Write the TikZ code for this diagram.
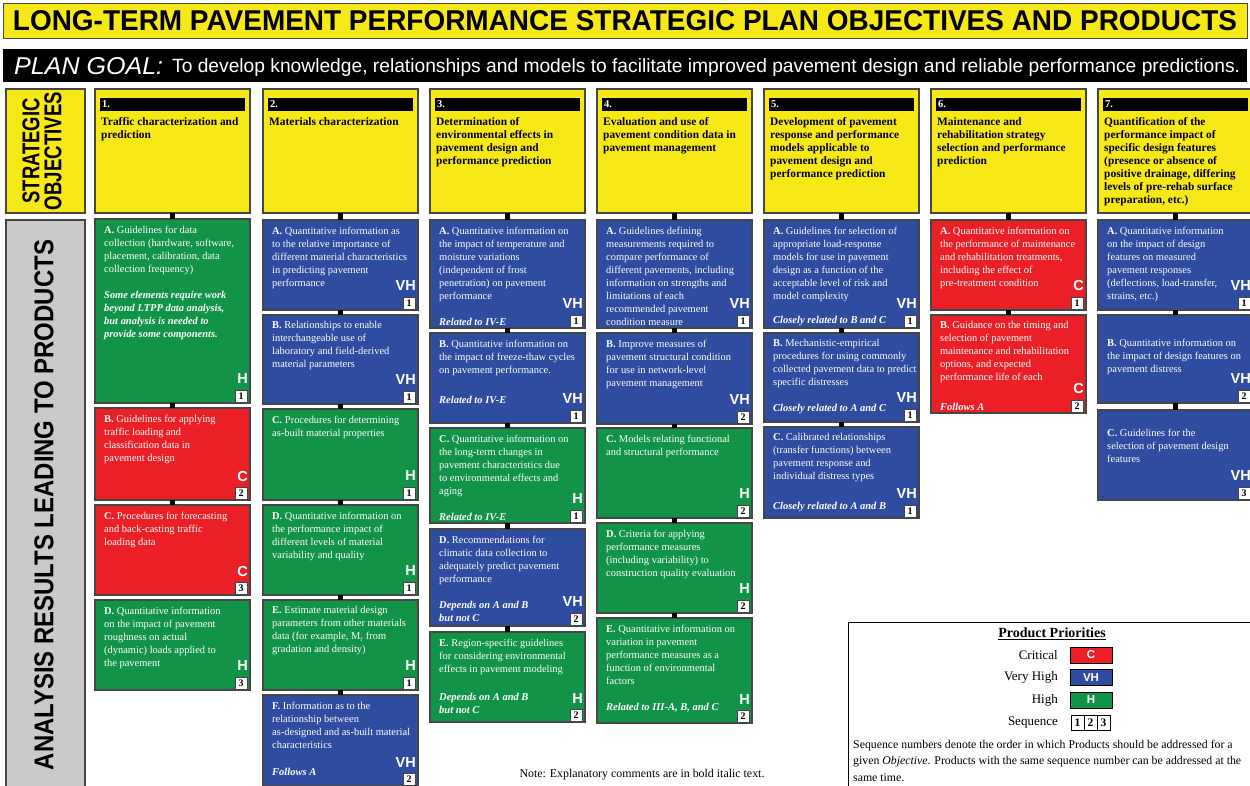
\documentclass[tikz,border=0pt]{standalone}
\usepackage{fontspec}
\setmainfont{Liberation Serif}
\setsansfont{Liberation Sans}
\usepackage{graphicx}
\definecolor{yel}{RGB}{247,232,24}
\definecolor{grn}{RGB}{18,148,72}
\definecolor{redc}{RGB}{234,32,38}
\definecolor{blu}{RGB}{46,76,160}
\definecolor{gry}{RGB}{202,202,202}
\definecolor{bord}{RGB}{70,70,70}
\tikzset{
 pbox/.style={anchor=north west, minimum width=155pt, inner sep=0pt, outer sep=0pt, draw=bord, line width=1.3pt},
 obox/.style={anchor=north west, minimum width=155pt, minimum height=124pt, inner sep=0pt, outer sep=0pt, fill=yel, draw=bord, line width=1.3pt},
 ptext/.style={anchor=north west, inner sep=0pt, align=left, text=white, font=\fontsize{10.45}{13}\selectfont},
 otext/.style={anchor=north west, inner sep=0pt, align=left, text=black, font=\fontsize{11.4}{13}\selectfont\bfseries},
 cmt/.style={anchor=base west, inner sep=0pt, text=white, font=\fontsize{10.5}{13}\selectfont\bfseries\itshape},
 prio/.style={anchor=east, inner sep=0pt, text=white, font=\fontsize{14.5}{14.5}\selectfont\sffamily\bfseries},
 seqb/.style={draw=bord, fill=white, line width=0.6pt, minimum width=12pt, minimum height=12pt, inner sep=0pt, text=black, font=\fontsize{10}{10}\selectfont\bfseries},
 numt/.style={anchor=west, inner sep=0pt, text=white, font=\fontsize{10.5}{10.5}\selectfont\bfseries},
 conn/.style={line width=5pt, black},
 sidebox/.style={anchor=north west, minimum width=79pt, inner sep=0pt, outer sep=0pt, draw=bord, line width=1.3pt},
 legl/.style={anchor=east, inner sep=0pt, font=\fontsize{13}{13}\selectfont},
 sw/.style={minimum width=42pt, minimum height=16pt, inner sep=0pt, draw=black, line width=0.6pt, text=white, font=\fontsize{11.5}{11.5}\selectfont\sffamily\bfseries},
 sq/.style={minimum width=13pt, minimum height=15pt, inner sep=0pt, draw=black, line width=0.7pt, fill=white, font=\fontsize{11.5}{11.5}\selectfont\bfseries},
}
\newcommand{\bi}[1]{{\bfseries\itshape #1}}
% objective box: name, left, number, text
\newcommand{\obj}[4]{%
  \node[obox] (#1) at (#2,89) {};
  \node[anchor=north west, minimum width=145pt, minimum height=13pt, fill=black, inner sep=0pt] (#1-bar) at (#2+5,98) {};
  \node[numt] (#1-n) at (#2+7,104.5) {#3.};
  \node[otext] (#1-t) at (#2+6,117) {#4};
}
% product box: name, left, top, bottom, colour, text, priority, sequence, text offset
\newcommand{\pbx}[9]{%
  \node[pbox, fill=#5, minimum height={#4-#3}] (#1) at (#2,#3) {};
  \node[ptext] (#1-t) at (#2+9,#3+#9) {#6};
  \node[prio] (#1-p) at (#2+153,#4-24) {#7};
  \node[seqb] (#1-s) at (#2+146,#4-7) {#8};
}
\begin{document}
\begin{tikzpicture}[x=1pt,y=-1pt]
\useasboundingbox (0,0) rectangle (1250,785);
\clip (0,0) rectangle (1250,785);
\fill[white] (0,0) rectangle (1250,785);
% title
\node[anchor=north west, minimum width=1244pt, minimum height=35pt, fill=yel, draw=bord, line width=1.3pt, inner sep=0pt] (title) at (3,3) {};
\node[inner sep=0pt] (title-t) at (625,21) {\resizebox{1224pt}{20pt}{\sffamily\bfseries LONG-TERM PAVEMENT PERFORMANCE STRATEGIC PLAN OBJECTIVES AND PRODUCTS}};
% plan goal
\node[anchor=north west, minimum width=1244pt, minimum height=33pt, fill=black, inner sep=0pt] (goal) at (3,49) {};
\node[anchor=west, inner sep=0pt, text=white] (goal-a) at (14,66.5) {\resizebox{149pt}{17pt}{\sffamily\itshape PLAN GOAL:}};
\node[anchor=west, inner sep=0pt, text=white] (goal-b) at (172,67.5) {\resizebox{1068pt}{!}{\sffamily To develop knowledge, relationships and models to facilitate improved pavement design and reliable performance predictions.}};
% side labels
\node[sidebox, fill=yel, minimum height=124pt] (so) at (6,89) {};
\node[rotate=90, inner sep=0pt] (so-t1) at (31,151) {\resizebox{105pt}{17pt}{\sffamily\bfseries STRATEGIC}};
\node[rotate=90, inner sep=0pt] (so-t2) at (53,151) {\resizebox{118pt}{17pt}{\sffamily\bfseries OBJECTIVES}};
\node[sidebox, fill=gry, minimum height=575pt] (ar) at (6,220) {};
\node[rotate=90, inner sep=0pt] (ar-t) at (44,505) {\resizebox{530pt}{19pt}{\sffamily\bfseries ANALYSIS RESULTS LEADING TO PRODUCTS}};

% ---------- column 1
\obj{o1}{95}{1}{Traffic characterization and\\prediction}
\pbx{a1}{95}{219}{403}{grn}{\textbf{A.} Guidelines for data\\collection (hardware, software,\\placement, calibration, data\\collection frequency)\\[13pt]\bi{Some elements require work}\\\bi{beyond LTPP data analysis,}\\\bi{but analysis is needed to}\\\bi{provide some components.}}{H}{1}{6.5}
\pbx{b1}{95}{408}{500}{redc}{\textbf{B.} Guidelines for applying\\traffic loading and\\classification data in\\pavement design}{C}{2}{6.5}
\pbx{c1}{95}{505}{595}{redc}{\textbf{C.} Procedures for forecasting\\and back-casting traffic\\loading data}{C}{3}{6.5}
\pbx{d1}{95}{600}{690}{grn}{\textbf{D.} Quantitative information\\on the impact of pavement\\roughness on actual\\(dynamic) loads applied to\\the pavement}{H}{3}{6.5}
\draw[conn] (o1.south) -- (a1.north);
\draw[conn] (a1.south) -- (b1.north);
\draw[conn] (b1.south) -- (c1.north);

% ---------- column 2
\obj{o2}{263}{2}{Materials characterization}
\pbx{a2}{263}{220}{310}{blu}{\textbf{A.} Quantitative information as\\to the relative importance of\\different material characteristics\\in predicting pavement\\performance}{VH}{1}{6.5}
\pbx{b2}{263}{315}{404}{blu}{\textbf{B.} Relationships to enable\\interchangeable use of\\laboratory and field-derived\\material parameters}{VH}{1}{6.5}
\pbx{c2}{263}{409}{500}{grn}{\textbf{C.} Procedures for determining\\as-built material properties}{H}{1}{6.5}
\pbx{d2}{263}{505}{595}{grn}{\textbf{D.} Quantitative information on\\the performance impact of\\different levels of material\\variability and quality}{H}{1}{6.5}
\pbx{e2}{263}{600}{690}{grn}{\textbf{E.} Estimate material design\\parameters from other materials\\data (for example, M\textsubscript{r} from\\gradation and density)}{H}{1}{6.5}
\pbx{f2}{263}{695}{786}{blu}{\textbf{F.} Information as to the\\relationship between\\as-designed and as-built material\\characteristics}{VH}{2}{6.5}
\node[cmt] (f2-c) at (272,775) {Follows A};
\draw[conn] (o2.south) -- (a2.north);
\draw[conn] (a2.south) -- (b2.north);
\draw[conn] (b2.south) -- (c2.north);
\draw[conn] (c2.south) -- (d2.north);
\draw[conn] (d2.south) -- (e2.north);
\draw[conn] (e2.south) -- (f2.north);

% ---------- column 3
\obj{o3}{430}{3}{Determination of\\environmental effects in\\pavement design and\\performance prediction}
\pbx{a3}{430}{220}{328}{blu}{\textbf{A.} Quantitative information on\\the impact of temperature and\\moisture variations\\(independent of frost\\penetration) on pavement\\performance}{VH}{1}{6.5}
\node[cmt] (a3-c) at (439,325) {Related to IV-E};
\pbx{b3}{430}{333}{423}{blu}{\textbf{B.} Quantitative information on\\the impact of freeze-thaw cycles\\on pavement performance.}{VH}{1}{6.5}
\node[cmt] (b3-c) at (439,403) {Related to IV-E};
\pbx{c3}{430}{428}{523}{grn}{\textbf{C.} Quantitative information on\\the long-term changes in\\pavement characteristics due\\to environmental effects and\\aging}{H}{1}{6.5}
\node[cmt] (c3-c) at (439,520) {Related to IV-E};
\pbx{d3}{430}{529}{626}{blu}{\textbf{D.} Recommendations for\\climatic data collection to\\adequately predict pavement\\performance}{VH}{2}{6.5}
\node[cmt] (d3-c1) at (439,608) {Depends on A and B};
\node[cmt] (d3-c2) at (439,621) {but not C};
\pbx{e3}{430}{632}{722}{grn}{\textbf{E.} Region-specific guidelines\\for considering environmental\\effects in pavement modeling}{H}{2}{6.5}
\node[cmt] (e3-c1) at (439,700) {Depends on A and B};
\node[cmt] (e3-c2) at (439,713) {but not C};
\draw[conn] (o3.south) -- (a3.north);
\draw[conn] (a3.south) -- (b3.north);
\draw[conn] (b3.south) -- (c3.north);
\draw[conn] (c3.south) -- (d3.north);
\draw[conn] (d3.south) -- (e3.north);

% ---------- column 4
\obj{o4}{597}{4}{Evaluation and use of\\pavement condition data in\\pavement management}
\pbx{a4}{597}{220}{328}{blu}{\textbf{A.} Guidelines defining\\measurements required to\\compare performance of\\different pavements, including\\information on strengths and\\limitations of each\\recommended pavement\\condition measure}{VH}{1}{6.5}
\pbx{b4}{597}{333}{424}{blu}{\textbf{B.} Improve measures of\\pavement structural condition\\for use in network-level\\pavement management}{VH}{2}{6.5}
\pbx{c4}{597}{428}{518}{grn}{\textbf{C.} Models relating functional\\and structural performance}{H}{2}{6.5}
\pbx{d4}{597}{523}{613}{grn}{\textbf{D.} Criteria for applying\\performance measures\\(including variability) to\\construction quality evaluation}{H}{2}{6.5}
\pbx{e4}{597}{618}{723}{grn}{\textbf{E.} Quantitative information on\\variation in pavement\\performance measures as a\\function of environmental\\factors}{H}{2}{6.5}
\node[cmt] (e4-c) at (606,710) {Related to III-A, B, and C};
\draw[conn] (o4.south) -- (a4.north);
\draw[conn] (a4.south) -- (b4.north);
\draw[conn] (b4.south) -- (c4.north);
\draw[conn] (c4.south) -- (d4.north);
\draw[conn] (d4.south) -- (e4.north);

% ---------- column 5
\obj{o5}{764}{5}{Development of pavement\\response and performance\\models applicable to\\pavement design and\\performance prediction}
\pbx{a5}{764}{220}{328}{blu}{\textbf{A.} Guidelines for selection of\\appropriate load-response\\models for use in pavement\\design as a function of the\\acceptable level of risk and\\model complexity}{VH}{1}{6.5}
\node[cmt] (a5-c) at (773,323) {Closely related to B and C};
\pbx{b5}{764}{333}{422}{blu}{\textbf{B.} Mechanistic-empirical\\procedures for using commonly\\collected pavement data to predict\\specific distresses}{VH}{1}{6.5}
\node[cmt] (b5-c) at (773,411) {Closely related to A and C};
\pbx{c5}{764}{427}{518}{blu}{\textbf{C.} Calibrated relationships\\(transfer functions) between\\pavement response and\\individual distress types}{VH}{1}{6.5}
\node[cmt] (c5-c) at (773,509) {Closely related to A and B};
\draw[conn] (o5.south) -- (a5.north);
\draw[conn] (a5.south) -- (b5.north);
\draw[conn] (b5.south) -- (c5.north);

% ---------- column 6
\obj{o6}{931}{6}{Maintenance and\\rehabilitation strategy\\selection and performance\\prediction}
\pbx{a6}{931}{220}{310}{redc}{\textbf{A.} Quantitative information on\\the performance of maintenance\\and rehabilitation treatments,\\including the effect of\\pre-treatment condition}{C}{1}{6.5}
\pbx{b6}{931}{315}{413}{redc}{\textbf{B.} Guidance on the timing and\\selection of pavement\\maintenance and rehabilitation\\options, and expected\\performance life of each}{C}{2}{6.5}
\node[cmt] (b6-c) at (940,410) {Follows A};
\draw[conn] (o6.south) -- (a6.north);
\draw[conn] (a6.south) -- (b6.north);

% ---------- column 7
\obj{o7}{1098}{7}{Quantification of the\\performance impact of\\specific design features\\(presence or absence of\\positive drainage, differing\\levels of pre-rehab surface\\preparation, etc.)}
\pbx{a7}{1098}{220}{310}{blu}{\textbf{A.} Quantitative information\\on the impact of design\\features on measured\\pavement responses\\(deflections, load-transfer,\\strains, etc.)}{VH}{1}{6.5}
\pbx{b7}{1098}{315}{403}{blu}{\textbf{B.} Quantitative information on\\the impact of design features on\\pavement distress}{VH}{2}{23.5}
\pbx{c7}{1098}{410}{500}{blu}{\textbf{C.} Guidelines for the\\selection of pavement design\\features}{VH}{3}{18.5}
\draw[conn] (o7.south) -- (a7.north);
\draw[conn] (a7.south) -- (b7.north);
\draw[conn] (b7.south) -- (c7.north);

% ---------- note
\node[inner sep=0pt, font=\fontsize{11.9}{11.9}\selectfont] (note) at (642,775) {Note: Explanatory comments are in bold italic text.};

% ---------- legend
\node[anchor=north west, minimum width=410pt, minimum height=170pt, inner sep=0pt, draw=black, line width=1pt, fill=white] (leg) at (848,622) {};
\node[inner sep=0pt, font=\fontsize{14}{14}\selectfont\bfseries] (leg-t) at (1052,634) {\underline{Product Priorities}};
\node[legl] (l-c) at (1058,655) {Critical};
\node[sw, fill=redc] (s-c) at (1091,655) {C};
\node[legl] (l-vh) at (1058,677.5) {Very High};
\node[sw, fill=blu] (s-vh) at (1091,677.5) {VH};
\node[legl] (l-h) at (1058,700) {High};
\node[sw, fill=grn] (s-h) at (1091,700) {H};
\node[legl] (l-s) at (1058,722.5) {Sequence};
\node[sq] (q1) at (1077.5,722.5) {1};
\node[sq] (q2) at (1090.5,722.5) {2};
\node[sq] (q3) at (1103.5,722.5) {3};
\node[anchor=north west, inner sep=0pt, align=left, font=\fontsize{11.8}{16.5}\selectfont] (leg-x) at (853,739.5) {Sequence numbers denote the order in which Products should be addressed for a\\given \textit{Objective}. Products with the same sequence number can be addressed at the\\same time.};
\end{tikzpicture}
\end{document}
